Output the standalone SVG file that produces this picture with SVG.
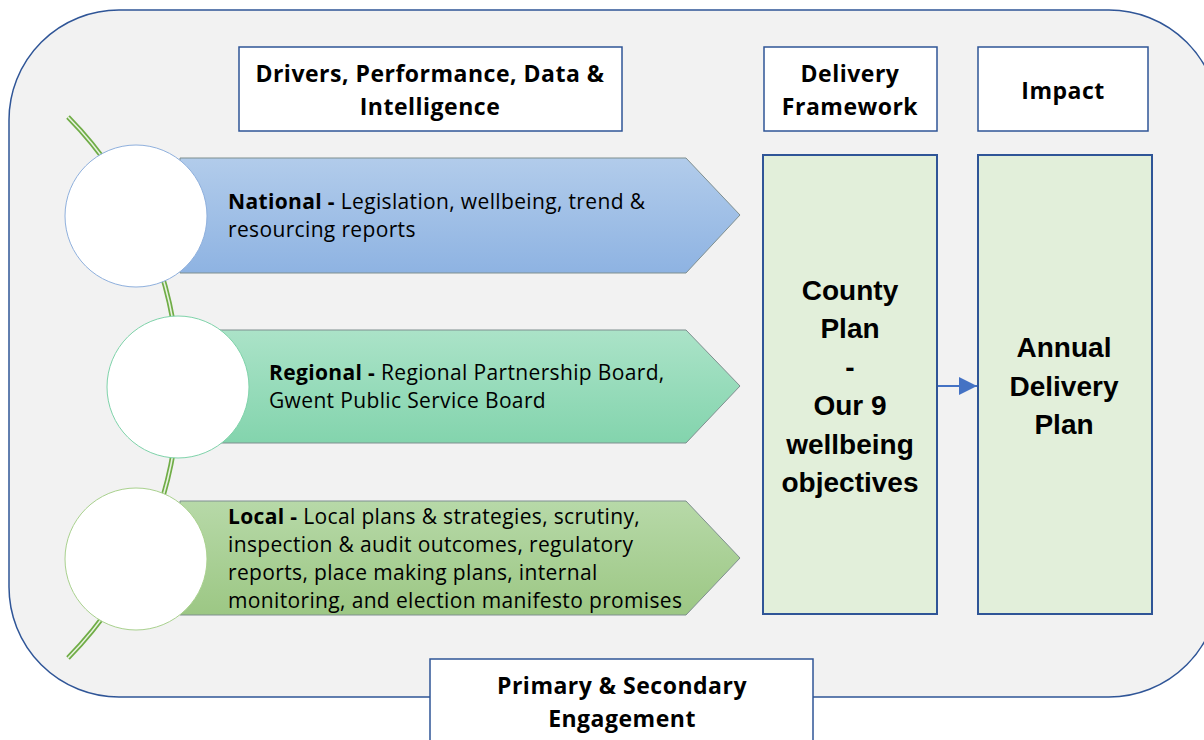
<svg xmlns="http://www.w3.org/2000/svg" width="1204" height="740" viewBox="0 0 1204 740">
<defs>
<style>
text{font-family:"Open Sans","Liberation Sans",Arial,sans-serif;fill:#000}
.hd{font-size:23px;font-weight:bold;text-anchor:middle;letter-spacing:0.5px}
.big{font-family:"Liberation Sans",Arial,sans-serif;font-size:28px;font-weight:bold;text-anchor:middle}
.body{font-size:21px;letter-spacing:0.35px}
.b{font-weight:bold}
.hbox{fill:#fff;stroke:#2F5597;stroke-width:1.5}
.gbox{fill:#E2EFDA;stroke:#2F5597;stroke-width:2}
.pent{stroke:#7F8F8F;stroke-width:1}
.circ{fill:#fff;stroke-width:1}
</style>
<linearGradient id="gN" x1="0" y1="0" x2="0" y2="1"><stop offset="0" stop-color="#B2CCEB"/><stop offset="1" stop-color="#8EB3E2"/></linearGradient>
<linearGradient id="gR" x1="0" y1="0" x2="0" y2="1"><stop offset="0" stop-color="#ABE3C8"/><stop offset="1" stop-color="#83D4AD"/></linearGradient>
<linearGradient id="gL" x1="0" y1="0" x2="0" y2="1"><stop offset="0" stop-color="#B7D9A8"/><stop offset="1" stop-color="#9CC784"/></linearGradient>
<marker id="ah" viewBox="0 0 10 10" refX="10" refY="5" markerWidth="9" markerHeight="9" orient="auto" markerUnits="strokeWidth"><path d="M0,0 L10,5 L0,10 z" fill="#4472C4"/></marker>
</defs>
<rect x="9" y="10" width="1210" height="687" rx="110" ry="110" fill="#F2F2F2" stroke="#2F5597" stroke-width="1.5"/>

<g id="arc">
<path d="M68,117 A386,386 0 0 1 68,658" fill="none" stroke="#70AD47" stroke-width="5"/>
<path d="M68,117 A386,386 0 0 1 68,658" fill="none" stroke="#E8F2E0" stroke-width="1.6"/>
</g>

<g id="national">
<path class="pent" d="M180,158 H686 L740,215 L686,273 H180 Z" fill="url(#gN)"/>
<circle class="circ" cx="136" cy="216" r="71" stroke="#8FB0DD"/>
<text class="body" x="228" y="209"><tspan class="b">National -</tspan> Legislation, wellbeing, trend &amp;</text>
<text class="body" x="228" y="237">resourcing reports</text>
</g>

<g id="regional">
<path class="pent" d="M220,330 H686 L740,386 L686,443 H220 Z" fill="url(#gR)"/>
<circle class="circ" cx="178" cy="387" r="71" stroke="#7FD3AA"/>
<text class="body" x="269" y="380"><tspan class="b">Regional -</tspan> Regional Partnership Board,</text>
<text class="body" x="269" y="408">Gwent Public Service Board</text>
</g>

<g id="local">
<path class="pent" d="M180,501 H686 L740,558 L686,615 H180 Z" fill="url(#gL)"/>
<circle class="circ" cx="136" cy="559" r="71" stroke="#A9D18E"/>
<text class="body" x="228" y="524"><tspan class="b">Local -</tspan> Local plans &amp; strategies, scrutiny,</text>
<text class="body" x="228" y="552">inspection &amp; audit outcomes, regulatory</text>
<text class="body" x="228" y="580">reports, place making plans, internal</text>
<text class="body" x="228" y="608">monitoring, and election manifesto promises</text>
</g>

<g id="drivers">
<rect class="hbox" x="239" y="47" width="383" height="84"/>
<text class="hd" x="430" y="82">Drivers, Performance, Data &amp;</text>
<text class="hd" x="430" y="115">Intelligence</text>
</g>

<g id="delivery-framework">
<rect class="hbox" x="764" y="47" width="173" height="84"/>
<text class="hd" x="850" y="82">Delivery</text>
<text class="hd" x="850" y="115">Framework</text>
</g>

<g id="impact">
<rect class="hbox" x="978" y="47" width="170" height="84"/>
<text class="hd" x="1063" y="99">Impact</text>
</g>

<g id="county-plan">
<rect class="gbox" x="763" y="155" width="174" height="459"/>
<text class="big" x="850" y="300">County</text>
<text class="big" x="850" y="338">Plan</text>
<text class="big" x="850" y="377">-</text>
<text class="big" x="850" y="415">Our 9</text>
<text class="big" x="850" y="454">wellbeing</text>
<text class="big" x="850" y="492">objectives</text>
</g>

<g id="annual-delivery-plan">
<rect class="gbox" x="978" y="155" width="174" height="459"/>
<text class="big" x="1064" y="357">Annual</text>
<text class="big" x="1064" y="396">Delivery</text>
<text class="big" x="1064" y="434">Plan</text>
</g>

<g id="connectors">
<line x1="938" y1="386" x2="977" y2="386" stroke="#4472C4" stroke-width="2" marker-end="url(#ah)"/>
</g>

<g id="engagement">
<rect class="hbox" x="430" y="659" width="383" height="90"/>
<text class="hd" x="622" y="694">Primary &amp; Secondary</text>
<text class="hd" x="622" y="727">Engagement</text>
</g>
</svg>
